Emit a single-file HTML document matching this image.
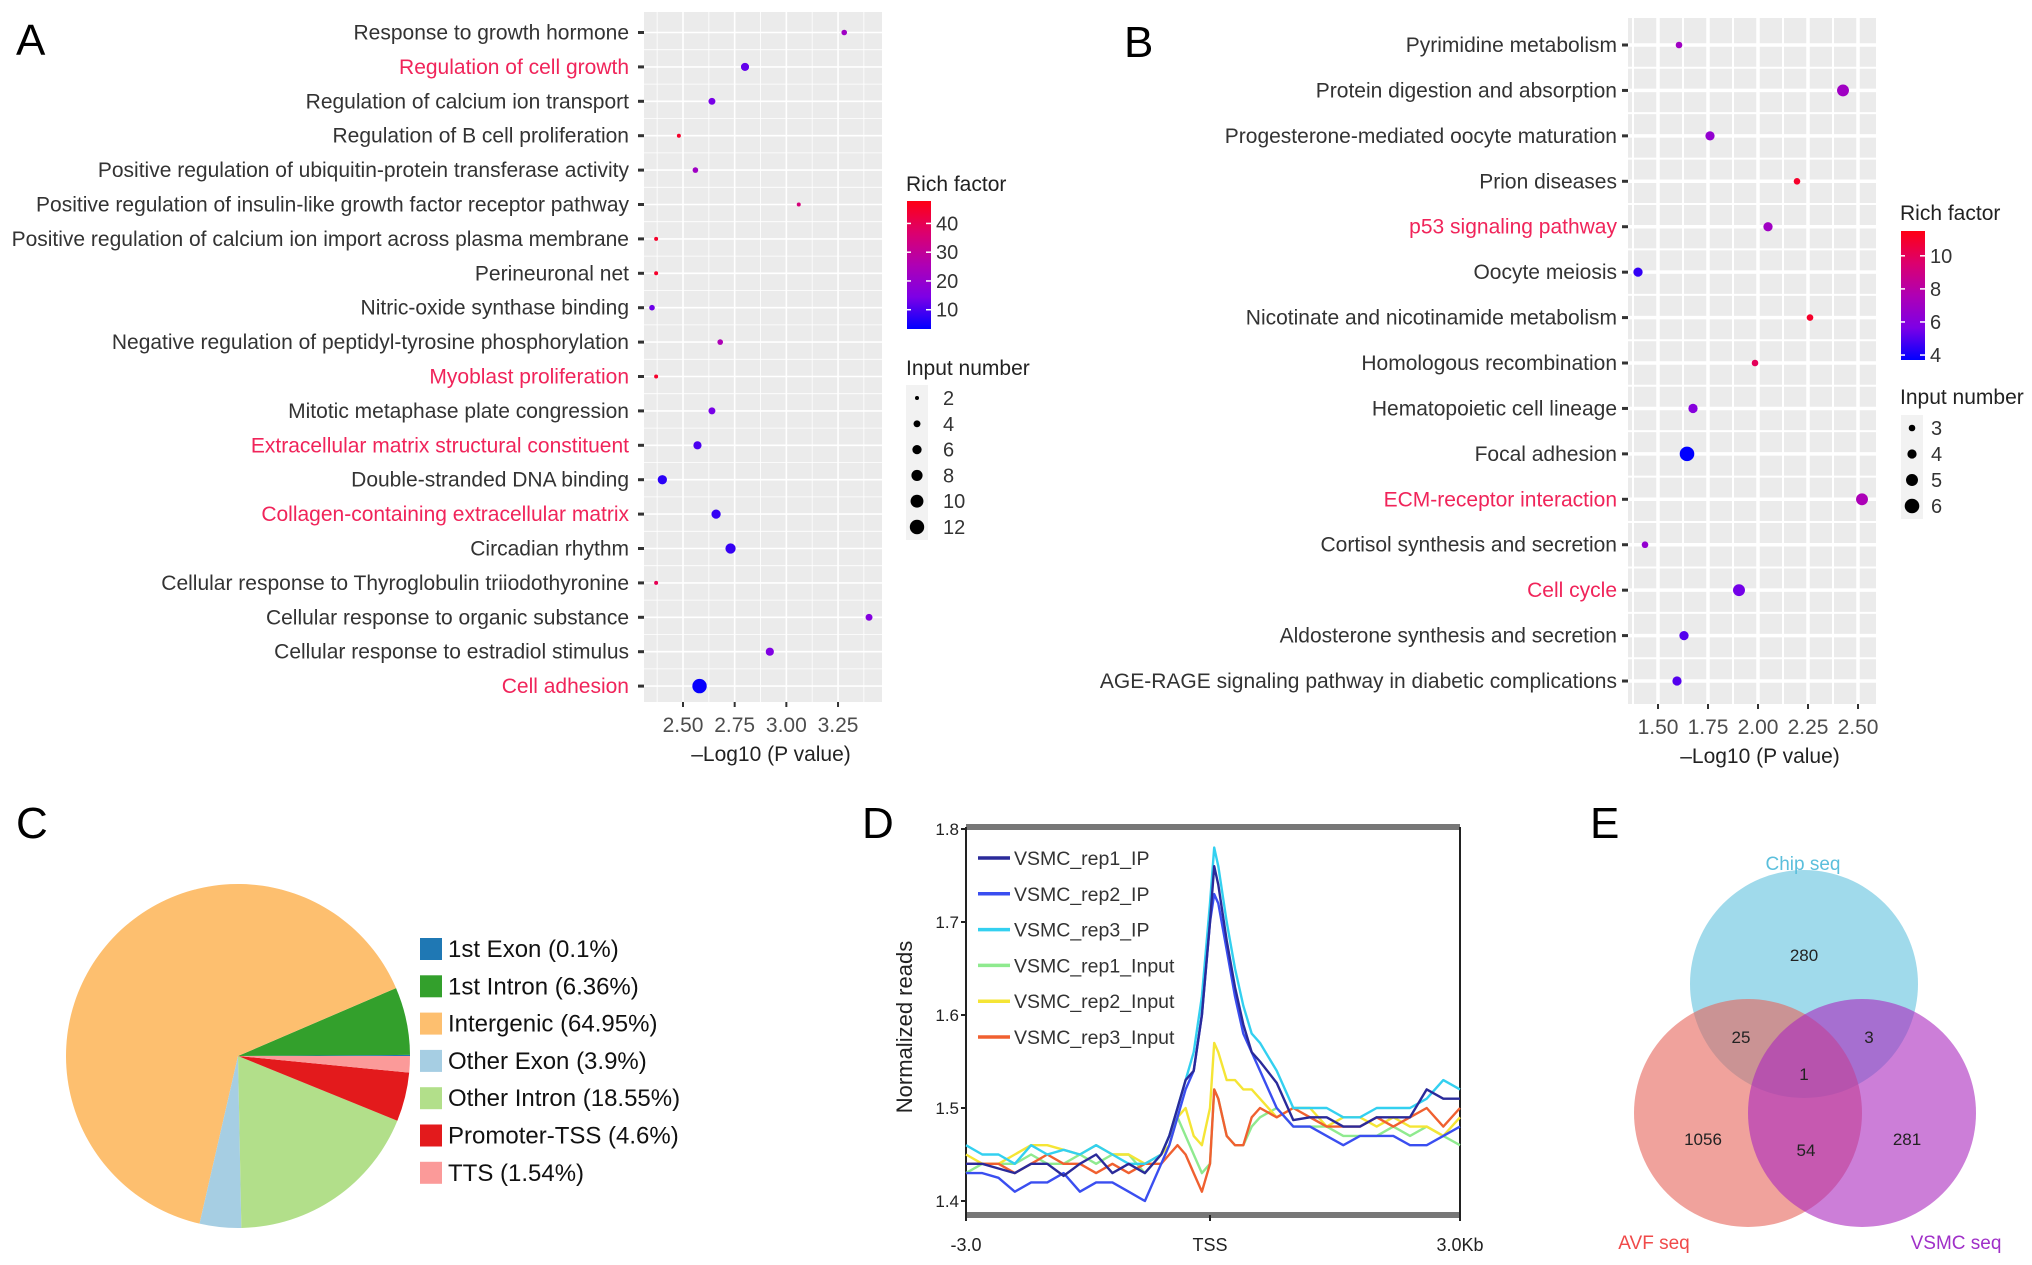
<!DOCTYPE html>
<html><head><meta charset="utf-8"><style>
html,body{margin:0;padding:0;background:#fff;}
svg{display:block;font-family:"Liberation Sans",Arial,sans-serif;}
</style></head><body>
<svg id="fig" width="2032" height="1265" viewBox="0 0 2032 1265" xmlns="http://www.w3.org/2000/svg">
<g id="gA"></g>
<g id="gB"></g>
<g id="gC"></g>
<g id="gD"></g>
<g id="gE"></g>
<text x="16" y="55" font-size="44" fill="#000">A</text>
<text x="1124" y="57" font-size="44" fill="#000">B</text>
<text x="16" y="838" font-size="44" fill="#000">C</text>
<text x="862" y="838" font-size="44" fill="#000">D</text>
<text x="1590" y="838" font-size="44" fill="#000">E</text>
</svg>
<script>
// ---------- Panel A data ----------
const aTerms = ["Response to growth hormone","Regulation of cell growth","Regulation of calcium ion transport","Regulation of B cell proliferation","Positive regulation of ubiquitin-protein transferase activity","Positive regulation of insulin-like growth factor receptor pathway","Positive regulation of calcium ion import across plasma membrane","Perineuronal net","Nitric-oxide synthase binding","Negative regulation of peptidyl-tyrosine phosphorylation","Myoblast proliferation","Mitotic metaphase plate congression","Extracellular matrix structural constituent","Double-stranded DNA binding","Collagen-containing extracellular matrix","Circadian rhythm","Cellular response to Thyroglobulin triiodothyronine","Cellular response to organic substance","Cellular response to estradiol stimulus","Cell adhesion"];
const aHighlight = [0,1,0,0,0,0,0,0,0,0,1,0,1,0,1,0,0,0,0,1];
const aLogP = [3.28,2.80,2.64,2.48,2.56,3.06,2.37,2.37,2.35,2.68,2.37,2.64,2.57,2.40,2.66,2.73,2.37,3.40,2.92,2.58];
const aRich = [22,12,14,45,22,35,45,45,13,25,45,14,10,7,8,8,40,16,15,4];
const aCount = [3,5,4,2,3,2,2,2,3,3,2,4,5,6,6,7,2,4,5,12];
const aTicks = [2.50,2.75,3.00,3.25];
const aRichTicks = [10,20,30,40];
const aSizeTicks = [2,4,6,8,10,12];
// ---------- Panel B data ----------
const bTerms = ["Pyrimidine metabolism","Protein digestion and absorption","Progesterone-mediated oocyte maturation","Prion diseases","p53 signaling pathway","Oocyte meiosis","Nicotinate and nicotinamide metabolism","Homologous recombination","Hematopoietic cell lineage","Focal adhesion","ECM-receptor interaction","Cortisol synthesis and secretion","Cell cycle","Aldosterone synthesis and secretion","AGE-RAGE signaling pathway in diabetic complications"];
const bHighlight = [0,0,0,0,1,0,0,0,0,0,1,0,1,0,0];
const bLogP = [1.605,2.425,1.76,2.195,2.05,1.40,2.26,1.985,1.675,1.645,2.52,1.435,1.905,1.63,1.595];
const bRich = [7,7,6.5,11,7,4.5,11,10,6,3.7,7.5,6.5,5.5,5,5];
const bCount = [3,5,4,3,4,4,3,3,4,6,5,3,5,4,4];
const bTicks = [1.50,1.75,2.00,2.25,2.50];
const bRichTicks = [4,6,8,10];
const bSizeTicks = [3,4,5,6];
// ---------- Panel C data ----------
const cLabels = ["1st Exon (0.1%)","1st Intron (6.36%)","Intergenic (64.95%)","Other Exon (3.9%)","Other Intron (18.55%)","Promoter-TSS (4.6%)","TTS (1.54%)"];
const cValues = [0.1,6.36,64.95,3.9,18.55,4.6,1.54];
const cColors = ["#1f78b4","#33a02c","#fdbf6f","#a6cee3","#b2df8a","#e31a1c","#fb9a99"];
// ---------- Panel D data ----------
const dX = [-3.0,-2.8,-2.6,-2.4,-2.2,-2.0,-1.8,-1.6,-1.4,-1.2,-1.0,-0.8,-0.6,-0.5,-0.4,-0.3,-0.2,-0.1,0,0.05,0.1,0.2,0.3,0.4,0.5,0.6,0.8,1.0,1.2,1.4,1.6,1.8,2.0,2.2,2.4,2.6,2.8,3.0];
const dRep1IP = [1.44,1.44,1.435,1.43,1.44,1.44,1.427,1.44,1.45,1.43,1.44,1.43,1.45,1.47,1.50,1.53,1.54,1.60,1.70,1.76,1.74,1.68,1.63,1.59,1.56,1.55,1.527,1.487,1.49,1.49,1.48,1.48,1.49,1.49,1.49,1.52,1.51,1.51];
const dRep2IP = [1.43,1.43,1.425,1.41,1.42,1.42,1.43,1.41,1.42,1.42,1.41,1.40,1.44,1.46,1.49,1.52,1.54,1.60,1.70,1.73,1.72,1.67,1.62,1.58,1.56,1.54,1.50,1.48,1.48,1.47,1.46,1.47,1.47,1.47,1.46,1.46,1.47,1.48];
const dRep3IP = [1.46,1.45,1.45,1.44,1.46,1.45,1.455,1.45,1.46,1.45,1.44,1.44,1.45,1.47,1.50,1.53,1.56,1.62,1.72,1.78,1.76,1.70,1.65,1.61,1.58,1.57,1.54,1.50,1.50,1.50,1.49,1.49,1.50,1.50,1.50,1.51,1.53,1.52];
const dRep1In = [1.43,1.44,1.44,1.44,1.45,1.44,1.44,1.45,1.44,1.45,1.45,1.43,1.45,1.47,1.49,1.47,1.45,1.43,1.44,1.52,1.51,1.47,1.46,1.46,1.48,1.49,1.50,1.48,1.48,1.48,1.47,1.47,1.47,1.48,1.47,1.48,1.47,1.46];
const dRep2In = [1.45,1.44,1.44,1.45,1.46,1.46,1.455,1.45,1.46,1.45,1.45,1.44,1.45,1.46,1.49,1.50,1.47,1.46,1.50,1.57,1.56,1.53,1.53,1.52,1.52,1.51,1.49,1.50,1.50,1.48,1.49,1.49,1.48,1.49,1.48,1.48,1.47,1.49];
const dRep3In = [1.44,1.44,1.44,1.43,1.44,1.45,1.44,1.44,1.43,1.44,1.43,1.44,1.44,1.45,1.46,1.45,1.43,1.41,1.44,1.52,1.51,1.47,1.46,1.46,1.49,1.50,1.49,1.50,1.49,1.48,1.48,1.48,1.49,1.48,1.49,1.50,1.48,1.50];
const dNames = ["VSMC_rep1_IP","VSMC_rep2_IP","VSMC_rep3_IP","VSMC_rep1_Input","VSMC_rep2_Input","VSMC_rep3_Input"];
const dYTicks = [1.4,1.5,1.6,1.7,1.8];
const dXTickLabels = ["-3.0","TSS","3.0Kb"];
const dXTickVals = [-3,0,3];
// ---------- Panel E data ----------
const eSets = ["Chip seq","AVF seq","VSMC seq"];
const eCounts = [280,1056,281,25,3,54,1];

const NS = "http://www.w3.org/2000/svg";
function mk(parent, tag, attrs, text){
  const e = document.createElementNS(NS, tag);
  for (const k in attrs) e.setAttribute(k, attrs[k]);
  if (text !== undefined) e.textContent = text;
  parent.appendChild(e);
  return e;
}
const gradStops = [[0,[0,0,255]],[0.25,[125,0,230]],[0.5,[175,0,180]],[0.75,[220,0,110]],[1,[255,0,20]]];
function lerpColor(t){
  t = Math.max(0, Math.min(1, t));
  for (let i = 0; i < gradStops.length-1; i++){
    const a = gradStops[i], b = gradStops[i+1];
    if (t <= b[0]){
      const u = (t - a[0])/(b[0]-a[0]);
      const c = a[1].map((v,k)=>Math.round(v + (b[1][k]-v)*u));
      return "rgb(" + c.join(",") + ")";
    }
  }
  return "rgb(255,0,20)";
}

// ---------- Bubble chart builder ----------
function bubble(g, cfg){
  const xs = v => cfg.x0 + (v - cfg.v0) * cfg.pxPer;
  const ys = i => cfg.row0 + i * cfg.rowStep;
  const bg = mk(g, "rect", {x:cfg.left, y:cfg.top, width:cfg.right-cfg.left, height:cfg.bottom-cfg.top, fill:"#ebebeb"});
  
  
  for (let i = 0; i < cfg.ticks.length + 1; i++){
    const v = cfg.ticks[0] - 0.125 + i*0.25;
    const x = xs(v);
    if (x > cfg.left && x < cfg.right){
      const l = mk(g, "line", {x1:x, x2:x, y1:cfg.top, y2:cfg.bottom, stroke:"#fff", "stroke-width":cfg.minorW});
      
      
    }
  }
  for (let i = 0; i < cfg.terms.length - 1; i++){
    const y = (ys(i) + ys(i+1)) / 2;
    const l = mk(g, "line", {x1:cfg.left, x2:cfg.right, y1:y, y2:y, stroke:"#fff", "stroke-width":cfg.minorW});
    
    
  }
  cfg.ticks.forEach(v => {
    const x = xs(v);
    const l = mk(g, "line", {x1:x, x2:x, y1:cfg.top, y2:cfg.bottom, stroke:"#fff", "stroke-width":cfg.majorW});
    
    
    const tk = mk(g, "line", {x1:x, x2:x, y1:cfg.bottom, y2:cfg.bottom+5, stroke:"#333", "stroke-width":2});
    
    
    const t = mk(g, "text", {x:x, y:cfg.bottom+30, "font-size":21, fill:"#4d4d4d", "text-anchor":"middle"}, v.toFixed(2));
    
    
  });
  cfg.terms.forEach((term, i) => {
    const y = ys(i);
    const l = mk(g, "line", {x1:cfg.left, x2:cfg.right, y1:y, y2:y, stroke:"#fff", "stroke-width":cfg.majorW});
    
    
    const tk = mk(g, "line", {x1:cfg.left-6, x2:cfg.left, y1:y, y2:y, stroke:"#333", "stroke-width":3});
    
    
    const t = mk(g, "text", {x:cfg.labelX, y:y+7, "font-size":21, fill: cfg.hl[i] ? "#f0245a" : "#333", "text-anchor":"end"}, term);
    
    
  });
  cfg.terms.forEach((term, i) => {
    const c = mk(g, "circle", {cx: xs(cfg.vals[i]), cy: ys(i), r: cfg.rOf(cfg.cnt[i]), fill: lerpColor((cfg.rich[i]-cfg.rMin)/(cfg.rMax-cfg.rMin))});
    
    
  });
  const xt = mk(g, "text", {x:(cfg.left+cfg.right)/2+8, y:cfg.bottom+59, "font-size":21, fill:"#222", "text-anchor":"middle"}, "\u2013Log10 (P value)");
  
  
  const L = cfg.leg;
  const rt = mk(g, "text", {x:L.x, y:L.rtY, "font-size":21, fill:"#222"}, "Rich factor");
  
  
  const gid = cfg.prefix + "grad";
  const defs = mk(g, "defs", {});
  const lg = mk(defs, "linearGradient", {id:gid, x1:0, y1:1, x2:0, y2:0});
  gradStops.forEach(s => mk(lg, "stop", {offset:String(s[0]), "stop-color":"rgb("+s[1].join(",")+")"}));
  const bar = mk(g, "rect", {x:L.x+1, y:L.barTop, width:L.barW, height:L.barBot-L.barTop, fill:"url(#"+gid+")"});
  
  
  cfg.richTicks.forEach(v => {
    const y = L.barBot - (v - cfg.rMin)/(cfg.rMax-cfg.rMin)*(L.barBot-L.barTop);
    mk(g, "line", {x1:L.x+1, x2:L.x+5, y1:y, y2:y, stroke:"#fff", "stroke-width":1.5});
    mk(g, "line", {x1:L.x+L.barW-4, x2:L.x+L.barW+1, y1:y, y2:y, stroke:"#fff", "stroke-width":1.5});
    const t = mk(g, "text", {x:L.x+L.barW+6, y:y+7, "font-size":20, fill:"#333"}, String(v));
    
    
  });
  const it = mk(g, "text", {x:L.x, y:L.itY, "font-size":21, fill:"#222"}, "Input number");
  
  
  const kb = mk(g, "rect", {x:L.dotX-11, y:L.s0-13, width:22, height:(cfg.sizeTicks.length-1)*L.sStep+26, fill:"#f2f2f2"});
  
  
  cfg.sizeTicks.forEach((n, i) => {
    const y = L.s0 + i*L.sStep;
    const c = mk(g, "circle", {cx:L.dotX, cy:y, r:cfg.rOf(n), fill:"#000"});
    
    
    const t = mk(g, "text", {x:L.labX, y:y+7, "font-size":20, fill:"#333"}, String(n));
    
    
  });
}

bubble(document.getElementById("gA"), {
  prefix:"a", terms:aTerms, hl:aHighlight, vals:aLogP, rich:aRich, cnt:aCount, ticks:aTicks,
  richTicks:aRichTicks, sizeTicks:aSizeTicks,
  left:644, right:882, top:12, bottom:702, x0:683, v0:2.5, pxPer:206.7,
  row0:32.5, rowStep:34.4, labelX:629, majorW:1.6, minorW:0.8,
  rMin:3.3, rMax:47.8,
  rOf: n => 2.0 + 5.2*(Math.sqrt(n)-Math.sqrt(2))/(Math.sqrt(12)-Math.sqrt(2)),
  leg:{x:906, rtY:191, barTop:201, barBot:329, barW:24, itY:375, s0:398, sStep:25.8, dotX:917, labX:943}
});
bubble(document.getElementById("gB"), {
  prefix:"b", terms:bTerms, hl:bHighlight, vals:bLogP, rich:bRich, cnt:bCount, ticks:bTicks,
  richTicks:bRichTicks, sizeTicks:bSizeTicks,
  left:1628, right:1876, top:18, bottom:704, x0:1658, v0:1.5, pxPer:200,
  row0:45, rowStep:45.43, labelX:1617, majorW:3.5, minorW:2,
  rMin:3.7, rMax:11.5,
  rOf: n => 3.3 + 4*(n-3)/3,
  leg:{x:1900, rtY:220, barTop:231, barBot:360, barW:24, itY:404, s0:428, sStep:26, dotX:1912, labX:1931}
});

// ---------- Panel C ----------
(function(){
  const g = document.getElementById("gC");
  const cx = 238, cy = 1056, r = 172;
  const total = cValues.reduce((a,b)=>a+b,0);
  let a0 = 0;
  cValues.forEach((v, i) => {
    const a1 = a0 + v/total*2*Math.PI;
    const p0 = [cx + r*Math.cos(a0), cy - r*Math.sin(a0)];
    const p1 = [cx + r*Math.cos(a1), cy - r*Math.sin(a1)];
    const large = (a1 - a0) > Math.PI ? 1 : 0;
    const p = mk(g, "path", {d:`M${cx},${cy} L${p0[0]},${p0[1]} A${r},${r} 0 ${large} 0 ${p1[0]},${p1[1]} Z`, fill:cColors[i]});
    
    
    a0 = a1;
  });
  cLabels.forEach((lab, i) => {
    const y = 949 + i*37.3;
    const s = mk(g, "rect", {x:420, y:y-11, width:22, height:22, fill:cColors[i]});
    
    
    const t = mk(g, "text", {x:448, y:y+8, "font-size":24, fill:"#111"}, lab);
    
    
  });
})();

// ---------- Panel D ----------
(function(){
  const g = document.getElementById("gD");
  const L = 966, R = 1460, T = 827, B = 1215;
  const xsc = v => v < 0 ? 1210 + v*(1210-L)/3 : 1210 + v*(R-1210)/3;
  const ys = v => 1108 - (v - 1.5) * 930;
  const top = mk(g, "rect", {x:L, y:T-3, width:R-L, height:6, fill:"#777"});
  
  
  const bot = mk(g, "rect", {x:L, y:B-3, width:R-L, height:6, fill:"#777"});
  
  
  mk(g, "line", {x1:L, x2:L, y1:T, y2:B, stroke:"#222", "stroke-width":2});
  mk(g, "line", {x1:R, x2:R, y1:T, y2:B, stroke:"#222", "stroke-width":2});
  dYTicks.forEach(v => {
    const y = ys(v);
    mk(g, "line", {x1:L-5, x2:L, y1:y, y2:y, stroke:"#222", "stroke-width":2});
    const t = mk(g, "text", {x:L-7, y:y+6, "font-size":17, fill:"#222", "text-anchor":"end"}, v.toFixed(1));
    
    
  });
  dXTickVals.forEach((v, i) => {
    const x = xsc(v);
    mk(g, "line", {x1:x, x2:x, y1:B, y2:B+6, stroke:"#222", "stroke-width":2});
    const t = mk(g, "text", {x:x, y:B+36, "font-size":18, fill:"#222", "text-anchor":"middle"}, dXTickLabels[i]);
    
    
  });
  const yt = mk(g, "text", {x:0, y:0, "font-size":22, fill:"#222", "text-anchor":"middle", transform:"translate(912,1027) rotate(-90)"}, "Normalized reads");
  
  
  const series = [dRep1IP, dRep2IP, dRep3IP, dRep1In, dRep2In, dRep3In];
  const colors = ["#2a2a9a","#3a4ef0","#33d0f0","#8fea8f","#f5e535","#f06030"];
  const order = [3,4,5,2,1,0];
  order.forEach(k => {
    const pts = dX.map((x, i) => xsc(x).toFixed(1) + "," + ys(series[k][i]).toFixed(1)).join(" ");
    const pl = mk(g, "polyline", {points:pts, fill:"none", stroke:colors[k], "stroke-width":2.4, "stroke-linejoin":"round"});
    
    
  });
  dNames.forEach((n, i) => {
    const y = 858 + i*35.8;
    mk(g, "line", {x1:978, x2:1010, y1:y, y2:y, stroke:colors[i], "stroke-width":3.5});
    const t = mk(g, "text", {x:1014, y:y+7, "font-size":19.5, fill:"#333"}, n);
    
    
  });
})();

// ---------- Panel E ----------
(function(){
  const g = document.getElementById("gE");
  const circ = [[1804,984,"rgba(128,205,228,0.75)"],[1748,1113,"rgba(230,100,90,0.6)"],[1862,1113,"rgba(170,40,190,0.6)"]];
  circ.forEach((c, i) => {
    const e = mk(g, "circle", {cx:c[0], cy:c[1], r:114, fill:c[2]});
    
    
  });
  const labs = [[1803,870,"#5bbfdc"],[1654,1249,"#f04a4a"],[1956,1249,"#a030c8"]];
  eSets.forEach((s, i) => {
    const t = mk(g, "text", {x:labs[i][0], y:labs[i][1], "font-size":19, fill:labs[i][2], "text-anchor":"middle"}, s);
    
    
  });
  const pos = [[1804,961],[1703,1145],[1907,1145],[1741,1043],[1869,1043],[1806,1156],[1804,1080]];
  eCounts.forEach((n, i) => {
    const t = mk(g, "text", {x:pos[i][0], y:pos[i][1], "font-size":17, fill:"#222", "text-anchor":"middle"}, String(n));
    
    
  });
})();
</script>
</body></html>
